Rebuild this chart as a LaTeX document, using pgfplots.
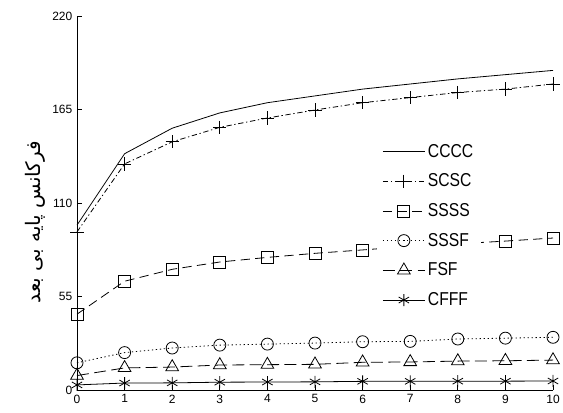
\documentclass[border=0pt]{standalone}
\usepackage{fontspec}
\setmainfont{Liberation Sans}
\newfontfamily\arabicfont[Script=Arabic, Scale=1.5]{DejaVu Sans}
\newfontfamily\legfont[FakeStretch=0.84, Scale=1.4]{Liberation Sans}
\newcommand\lf{\legfont}
\TeXXeTstate=1
\usepackage{pgfplots}
\pgfplotsset{compat=1.18}
\pgfplotsset{myleg/.style={legend image code/.code={\draw[mark repeat=2,mark phase=2,##1] plot coordinates {(0pt,0pt) (15.75pt,0pt) (31.5pt,0pt)};}}}
\begin{document}
\begin{tikzpicture}
\begin{axis}[
  scale only axis, width=357pt, height=280.5pt,
  xmin=0, xmax=10, ymin=0, ymax=220,
  axis x line=bottom, axis y line=left,
  axis line style={-, line width=0.6pt},
  xtick={0,...,10}, ytick={0,55,110,165,220},
  tick align=inside, major tick length=3.75pt,
  tick style={black, line width=0.6pt},
  ticklabel style={font=\fontsize{9}{10}\selectfont},
  /pgf/number format/assume math mode=true,
  clip=false,
  ylabel={\arabicfont\beginR فرکانس پایه بی بعد\endR},
  ylabel style={at={(axis description cs:-0.088,0.449)}, anchor=center},
  legend cell align=left,
  legend style={at={(axis cs:6.3,148)}, anchor=north west, draw=none, fill=white,
    row sep=7pt, inner xsep=4pt, inner ysep=2pt},
  every axis plot/.append style={black, line width=0.6pt},
]
\addplot[myleg, solid] coordinates {(0,97)(1,139)(2,154)(3,163)(4,169)(5,173)(6,177)(7,180)(8,183)(9,185.5)(10,188)};
\addlegendentry{\lf CCCC}
\addplot[myleg, dash pattern=on 4pt off 2pt on 1pt off 2pt, mark=+, mark size=5pt, mark options={solid}] coordinates {(0,93)(1,133)(2,146)(3,154.5)(4,160)(5,164.7)(6,169)(7,172)(8,175)(9,177)(10,180)};
\addlegendentry{\lf SCSC}
\addplot[myleg, dash pattern=on 7pt off 4pt, mark=square, mark size=4.5pt, mark options={solid}] coordinates {(0,44.6)(1,64)(2,71)(3,75.3)(4,78)(5,80.4)(6,82.4)(7,84.5)(8,86)(9,87.6)(10,89.4)};
\addlegendentry{\lf SSSS}
\addplot[myleg, dash pattern=on 1pt off 2pt, mark=o, mark size=4.5pt, mark options={solid}] coordinates {(0,16)(1,22)(2,24.7)(3,26.4)(4,27)(5,27.6)(6,28.4)(7,28.6)(8,30)(9,30.5)(10,31)};
\addlegendentry{\lf SSSF}
\addplot[myleg, dash pattern=on 9pt off 4pt, mark=triangle, mark size=5.5pt, mark options={solid}] coordinates {(0,8.5)(1,13)(2,13.5)(3,14.7)(4,14.9)(5,15.1)(6,16.3)(7,16.5)(8,17)(9,17.2)(10,17.6)};
\addlegendentry{\lf FSF}
\addplot[myleg, solid, mark=asterisk, mark size=4.5pt] coordinates {(0,3)(1,4.1)(2,4.2)(3,4.6)(4,4.7)(5,4.8)(6,5.1)(7,5.1)(8,5.2)(9,5.2)(10,5.3)};
\addlegendentry{\lf CFFF}
\end{axis}
\pgfresetboundingbox
\path[use as bounding box] (-57.75pt,-16.5pt) rectangle (364.5pt,292.5pt);
\end{tikzpicture}
\end{document}
